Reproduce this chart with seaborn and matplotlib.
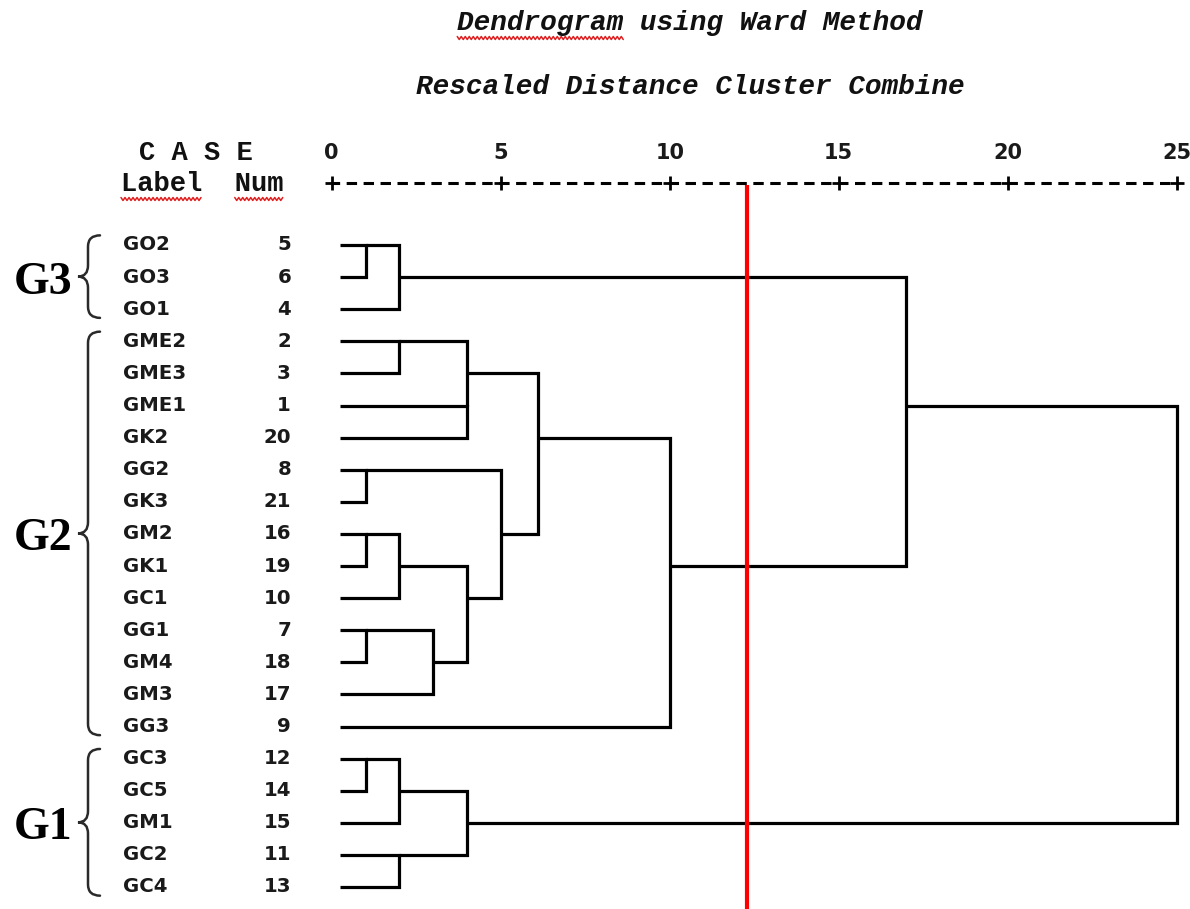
import numpy as np
import pandas as pd
import matplotlib
matplotlib.use("Agg")
import matplotlib.pyplot as plt
import seaborn as sns
from matplotlib.path import Path
from matplotlib.patches import PathPatch

# ---------------- data ----------------
leaf_labels = ["GO2", "GO3", "GO1", "GME2", "GME3", "GME1", "GK2", "GG2", "GK3",
               "GM2", "GK1", "GC1", "GG1", "GM4", "GM3", "GG3", "GC3", "GC5",
               "GM1", "GC2", "GC4"]
case_nums = [5, 6, 4, 2, 3, 1, 20, 8, 21, 16, 19, 10, 7, 18, 17, 9, 12, 14, 15, 11, 13]
# merges: cluster ids < 21 are leaves (display order), 21+k is the k-th merge
merge_a = [0, 21, 3, 5, 23, 7, 9, 27, 12, 29, 28, 26, 25, 33, 16, 35, 19, 36, 22, 39]
merge_b = [1, 2, 4, 6, 24, 8, 10, 11, 13, 14, 30, 31, 32, 15, 17, 18, 20, 37, 34, 38]
merge_dist = [1.0, 2.0, 2.0, 4.0, 4.0, 1.0, 1.0, 2.0, 1.0, 3.0, 4.0, 5.0, 6.1, 10.0,
              1.0, 2.0, 2.0, 4.0, 17.0, 25.0]
axis_ticks = [0, 5, 10, 15, 20, 25]
cut_distance = 12.3
group_names = ["G3", "G2", "G1"]
group_first = [0, 3, 16]
group_last = [2, 15, 20]
title_text = "Dendrogram using Ward Method"
subtitle_text = "Rescaled Distance Cluster Combine"

# ---------------- layout helpers (pixel -> data) ----------------
W, H = 1190, 909
PX0, PXU = 331.7, 33.8
PY0, PYR = 245.0, 32.1
def dx(px):
    return (px - PX0) / PXU
def ry(py):
    return (py - PY0) / PYR

sns.set_theme(style="white")
plt.rcParams["lines.scale_dashes"] = False
plt.rcParams["font.family"] = ["DejaVu Sans"]

fig = plt.figure(figsize=(W / 100, H / 100), dpi=100)
ax = fig.add_axes([0, 0, 1, 1])

# ---------------- dendrogram segments ----------------
leaf_start = 0.25
n = len(leaf_labels)
pos_row = list(range(n))
pos_x = [leaf_start] * n
recs = []
for k, (a, b, h) in enumerate(zip(merge_a, merge_b, merge_dist)):
    pts = [(pos_x[a], pos_row[a]), (h, pos_row[a]), (h, pos_row[b]), (pos_x[b], pos_row[b])]
    for x, y in pts:
        recs.append({"seg": k, "x": x, "y": y})
    pos_row.append((pos_row[a] + pos_row[b]) // 2)
    pos_x.append(h)
df = pd.DataFrame(recs)
sns.lineplot(data=df, x="x", y="y", units="seg", estimator=None, sort=False,
             color="black", linewidth=2.3, ax=ax, legend=False,
             solid_joinstyle="miter", solid_capstyle="butt")

# ---------------- axis line with + marks ----------------
y_axis = ry(183)
ax.plot([axis_ticks[0], axis_ticks[-1]], [y_axis, y_axis], color="black", lw=2.2,
        linestyle=(2, (7.5, 4.7)))
ax.plot(axis_ticks, [y_axis] * len(axis_ticks), linestyle="none", marker="+",
        ms=10, mew=2.0, color="black")
for t in axis_ticks:
    ax.text(t, ry(153), str(t), ha="center", va="center", fontsize=15,
            fontweight="bold", color="#1a1a1a", family="DejaVu Sans")

# ---------------- cut line ----------------
ybot = ry(H)
ax.plot([cut_distance, cut_distance], [ry(185), ybot + 1], color="#ff0000", lw=3.0,
        solid_capstyle="butt")

# ---------------- leaf labels ----------------
for i, (lab, num) in enumerate(zip(leaf_labels, case_nums)):
    ax.text(dx(123), i, lab, ha="left", va="center", fontsize=14.2, fontweight="bold",
            color="#1a1a1a", family="DejaVu Sans")
    ax.text(dx(291), i, str(num), ha="right", va="center", fontsize=14.2,
            fontweight="bold", color="#1a1a1a", family="DejaVu Sans")

# ---------------- header texts ----------------
t_title = ax.text(dx(690), ry(23), title_text, ha="center", va="center",
                  family="Liberation Mono", fontweight="bold", style="italic",
                  fontsize=20, color="#111111")
ax.text(dx(690), ry(87), subtitle_text, ha="center", va="center",
        family="Liberation Mono", fontweight="bold", style="italic",
        fontsize=20, color="#111111")
ax.text(dx(139), ry(153), "C A S E", ha="left", va="center", family="Liberation Mono",
        fontweight="bold", fontsize=19.5, color="#111111")
t_label = ax.text(dx(121), ry(184), "Label  Num", ha="left", va="center",
                  family="Liberation Mono", fontweight="bold", fontsize=19.5,
                  color="#111111")

# ---------------- braces + group names ----------------
x_hook, x_stem, x_tip = dx(100), dx(88), dx(78)
def brace(y0, y1):
    ym = (y0 + y1) / 2.0
    c = 0.35
    verts = [(x_hook, y0), (x_stem, y0), (x_stem, y0 + c),
             (x_stem, ym - c),
             (x_stem, ym), (x_tip, ym),
             (x_stem, ym), (x_stem, ym + c),
             (x_stem, y1 - c),
             (x_stem, y1), (x_hook, y1)]
    codes = [Path.MOVETO, Path.CURVE3, Path.CURVE3, Path.LINETO,
             Path.CURVE3, Path.CURVE3, Path.CURVE3, Path.CURVE3,
             Path.LINETO, Path.CURVE3, Path.CURVE3]
    ax.add_patch(PathPatch(Path(verts, codes), fill=False, lw=1.8,
                           edgecolor="#2a2a2a", capstyle="round"))
    return ym

for name, f, l in zip(group_names, group_first, group_last):
    ym = brace(f - 0.3, l + 0.27)
    ax.text(dx(72), ym + 0.53, name, ha="right", va="baseline",
            family="Liberation Serif", fontweight="bold", fontsize=33, color="black")

ax.set_xlim(dx(0), dx(W))
ax.set_ylim(ry(H), ry(0))
ax.axis("off")

# ---------------- spell-check style wavy underlines ----------------
fig.canvas.draw()
renderer = fig.canvas.get_renderer()
inv = ax.transData.inverted()
def wavy(x0, x1, y):
    xs = np.arange(x0, x1, 2.0)
    ys = y + np.where(np.arange(len(xs)) % 2 == 0, 1.5, -1.5)
    pts = inv.transform(np.column_stack([xs, ys]))
    ax.plot(pts[:, 0], pts[:, 1], color="#e02020", lw=1.1)

bb = t_title.get_window_extent(renderer)
cw = bb.width / len(title_text)
wavy(bb.x0, bb.x0 + cw * 10, bb.y0 - 2)
bb = t_label.get_window_extent(renderer)
cw = bb.width / len("Label  Num")
wavy(bb.x0, bb.x0 + cw * 5, bb.y0 - 2)
wavy(bb.x0 + cw * 7, bb.x0 + cw * 10, bb.y0 - 2)

fig.savefig("out.png", dpi=100, facecolor="white")
